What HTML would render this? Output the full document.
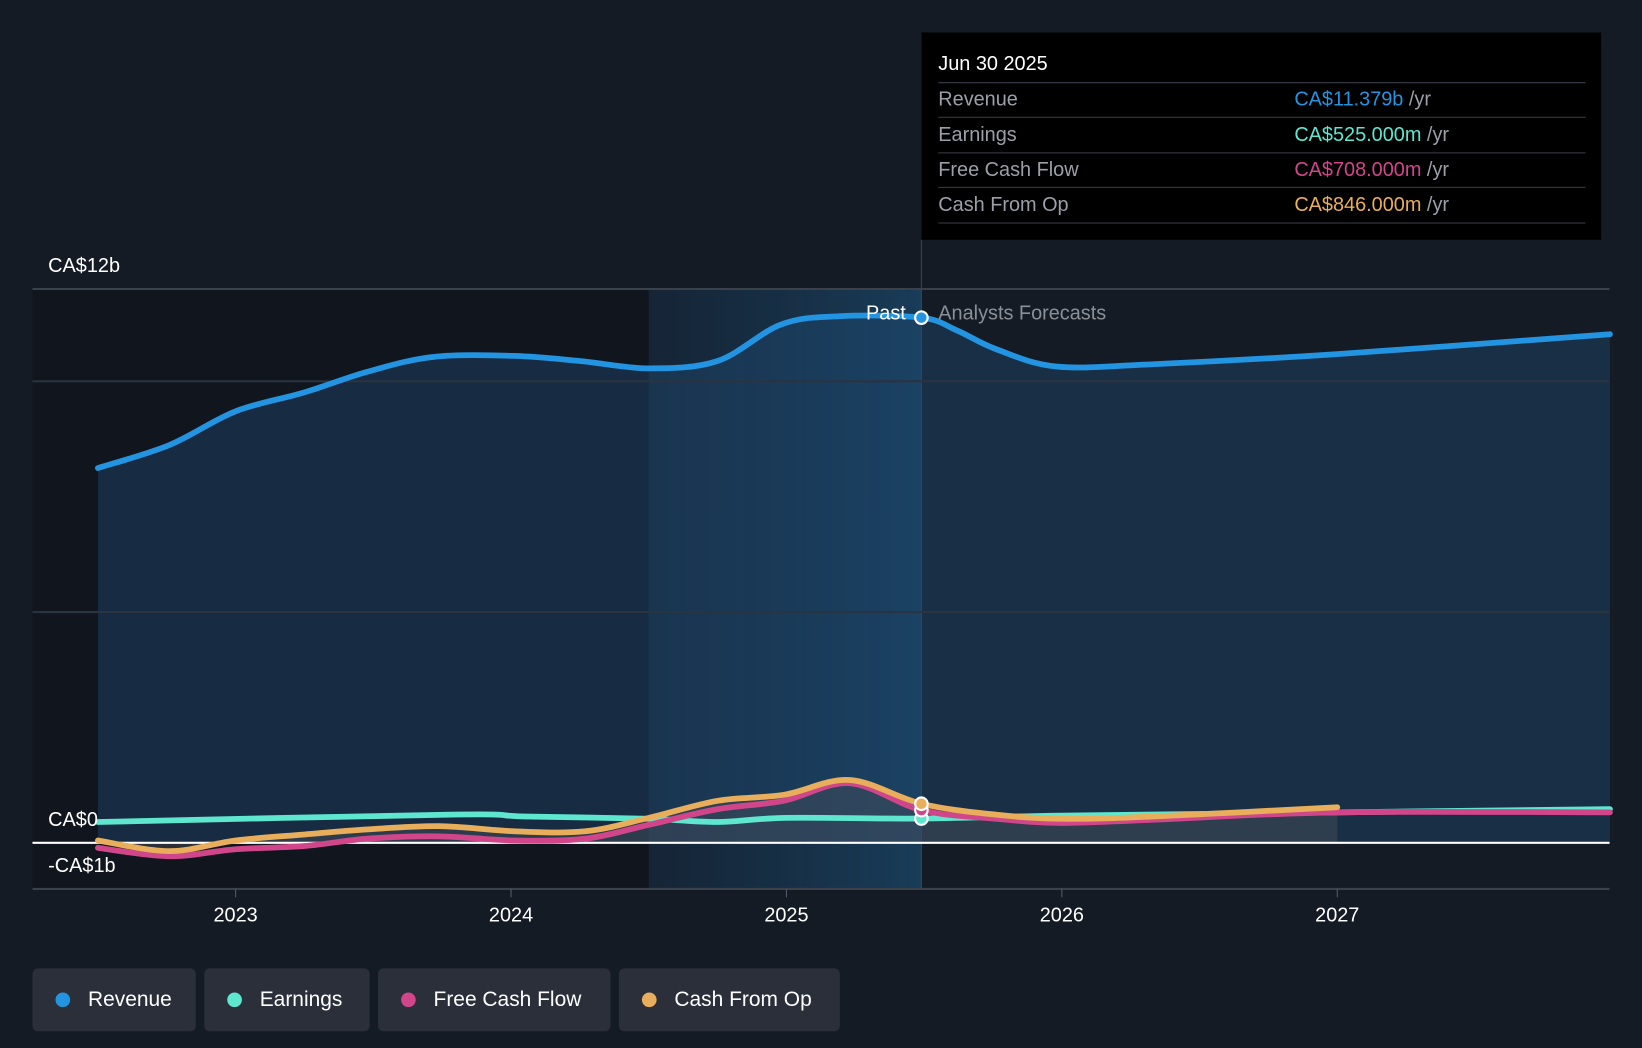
<!DOCTYPE html>
<html><head><meta charset="utf-8"><style>
html,body{margin:0;padding:0;background:#151b24;overflow:hidden}
#wrap{width:1568px;height:1001px;transform:scale(1.04719,1.04695);transform-origin:0 0;position:relative;font-family:"Liberation Sans",sans-serif}
.leg{position:absolute;top:925px;height:60px;background:#2a2f39;border-radius:5px;color:#fff;font-size:20px;line-height:60px;box-sizing:border-box;padding-left:53px}
.leg i{position:absolute;left:22px;top:23px;width:14px;height:14px;border-radius:50%}
</style></head><body>
<div id="wrap">
<svg id="chart" width="1568" height="1001"></svg>
<div class="leg" style="left:31px;width:156px"><i style="background:#2394e1"></i>Revenue</div>
<div class="leg" style="left:195px;width:158px"><i style="background:#5ee6cf"></i>Earnings</div>
<div class="leg" style="left:361px;width:222px"><i style="background:#d1468a"></i>Free Cash Flow</div>
<div class="leg" style="left:591px;width:211px"><i style="background:#e8ae5c"></i>Cash From Op</div>
</div>
<script>
const revT=[2022.5,2022.76,2023,2023.25,2023.48,2023.72,2024.01,2024.25,2024.5,2024.75,2024.98,2025.19,2025.49,2025.62,2025.76,2025.98,2026.33,2027,2027.99];
const revV=[8.12,8.62,9.35,9.76,10.21,10.53,10.55,10.44,10.28,10.44,11.23,11.41,11.379,11.1,10.7,10.32,10.37,10.59,11.02];
const earnT=[2022.5,2023.78,2024.05,2024.5,2024.75,2025,2025.49,2026,2027,2027.99];
const earnV=[0.45,0.61,0.57,0.52,0.45,0.54,0.525,0.59,0.66,0.73];
const fcfT=[2022.5,2022.76,2023,2023.25,2023.48,2023.74,2024.01,2024.27,2024.5,2024.75,2024.99,2025.23,2025.49,2025.76,2026,2026.33,2027,2027.99];
const fcfV=[-0.11,-0.29,-0.14,-0.07,0.09,0.14,0.05,0.09,0.39,0.73,0.91,1.29,0.708,0.52,0.43,0.5,0.66,0.66];
const cfoT=[2022.5,2022.76,2023,2023.25,2023.48,2023.74,2024.01,2024.27,2024.5,2024.75,2024.99,2025.23,2025.49,2025.76,2026,2026.33,2027];
const cfoV=[0.05,-0.18,0.05,0.18,0.29,0.36,0.25,0.25,0.54,0.91,1.04,1.36,0.846,0.61,0.52,0.57,0.77];
const xTicks=[2023,2024,2025,2026,2027];
const NOW=2025.49;
const X=t=>225+(t-2023)*263;
const Y=v=>805-v*44.08;
const svg=document.getElementById('chart');
const NS='http://www.w3.org/2000/svg';
function el(tag,a,txt){const e=document.createElementNS(NS,tag);for(const k in a)e.setAttribute(k,a[k]);if(txt!==undefined)e.textContent=txt;svg.appendChild(e);return e;}
function path(T,V){const p=T.map((t,i)=>[X(t),Y(V[i])]);let d='M'+p[0][0]+','+p[0][1];
for(let i=0;i<p.length-1;i++){const p0=p[Math.max(0,i-1)],p1=p[i],p2=p[i+1],p3=p[Math.min(p.length-1,i+2)];
d+=` C${p1[0]+(p2[0]-p0[0])/6},${p1[1]+(p2[1]-p0[1])/6} ${p2[0]-(p3[0]-p1[0])/6},${p2[1]-(p3[1]-p1[1])/6} ${p2[0]},${p2[1]}`;}return d;}
const defs=el('defs',{});
defs.innerHTML='<linearGradient id="hl" x1="0" x2="1"><stop offset="0" stop-color="#163049" stop-opacity="0.5"/><stop offset="1" stop-color="#1a4566" stop-opacity="0.8"/></linearGradient>';
let r=el('rect',{x:31,y:276,width:X(2024.5)-31,height:573,fill:'#11151d'});
r=el('rect',{x:X(2024.5),y:276,width:X(NOW)-X(2024.5),height:573,fill:'url(#hl)'});
el('line',{x1:X(NOW),x2:X(NOW),y1:229,y2:849,stroke:'#2a4a66','stroke-width':1});
const rp=path(revT,revV);
let a=el('path',{d:rp+` L${X(revT[revT.length-1])},${Y(0)} L${X(revT[0])},${Y(0)} Z`,fill:'#1e4a70','fill-opacity':0.45});

a=el('path',{d:path(cfoT,cfoV)+` L${X(2027)},${Y(0)} L${X(2022.5)},${Y(0)} Z`,fill:'#4a4f5a','fill-opacity':0.45});

[[12,'#3b414b'],[10,'#2a3340'],[5,'#2a3340'],[-1,'#3b414b']].forEach(g=>{const l=el('line',{x1:31,x2:1537,y1:Y(g[0]),y2:Y(g[0]),stroke:g[1],'stroke-width':2});});
el('line',{x1:31,x2:1537,y1:Y(0),y2:Y(0),stroke:'#fff','stroke-width':2});
const series=[[earnT,earnV,'#5ee6cf','earnings-line'],[fcfT,fcfV,'#d1468a','free-cash-flow-line'],[cfoT,cfoV,'#e8ae5c','cash-from-op-line'],[revT,revV,'#2394e1','revenue-line']];
series.forEach(s=>{const p=el('path',{d:path(s[0],s[1]),fill:'none',stroke:s[2],'stroke-width':5.5,'stroke-linecap':'round'});});
function valAt(T,V,t){for(let i=0;i<T.length;i++)if(Math.abs(T[i]-t)<1e-6)return V[i];return V[0];}
[[earnT,earnV,'#5ee6cf'],[fcfT,fcfV,'#d1468a'],[cfoT,cfoV,'#e8ae5c'],[revT,revV,'#2394e1']].forEach(s=>{const c=el('circle',{cx:X(NOW),cy:Y(valAt(s[0],s[1],NOW)),r:6,fill:s[2],stroke:'#fff','stroke-width':2});});
xTicks.forEach(t=>{const l=el('line',{x1:X(t),x2:X(t),y1:849,y2:857,stroke:'#555b66'});
const tx=el('text',{x:X(t),y:880,fill:'#fff','font-size':19,'text-anchor':'middle'},t);});
[['CA$12b',260],['CA$0',789],['-CA$1b',833]].forEach(l=>{const t=el('text',{x:46,y:l[1],fill:'#fff','font-size':19},l[0]);});
let t=el('text',{x:865,y:305,fill:'#fff','font-size':19,'text-anchor':'end'},'Past');
t=el('text',{x:896,y:305,fill:'#8a8f98','font-size':19},'Analysts Forecasts');
const tb=el('rect',{x:880,y:31,width:649,height:198,fill:'#000'});
t=el('text',{x:896,y:67,fill:'#fff','font-size':19},'Jun 30 2025');
const rows=[['Revenue','CA$11.379b','#2394e1'],['Earnings','CA$525.000m','#5ee6cf'],['Free Cash Flow','CA$708.000m','#d1468a'],['Cash From Op','CA$846.000m','#e8ae5c']];
[79,112,146,179,213].forEach(y=>el('line',{x1:896,x2:1514,y1:y,y2:y,stroke:'#3a3f48','stroke-width':1}));
rows.forEach((rw,i)=>{const y=101+i*33.5;
let a=el('text',{x:896,y:y,fill:'#9a9fa8','font-size':19},rw[0]);
a=el('text',{x:1236,y:y,fill:rw[2],'font-size':19});a.innerHTML=rw[1]+'<tspan fill="#9a9fa8"> /yr</tspan>';});
</script>
</body></html>
